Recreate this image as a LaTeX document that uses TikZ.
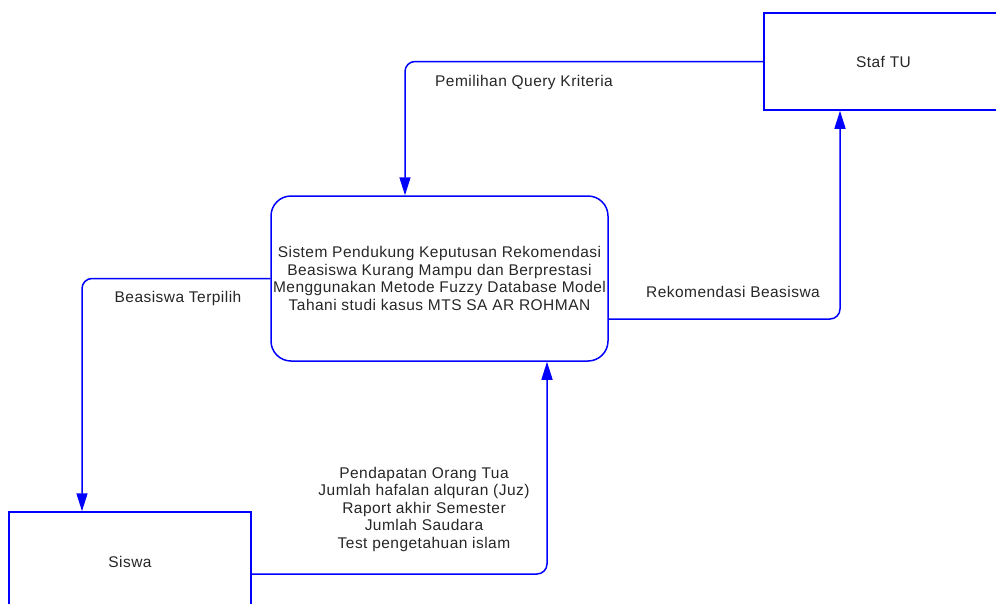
\documentclass[tikz,border=0pt]{standalone}
\usepackage{fontspec}
\setmainfont{Liberation Sans}[LetterSpace=3]
\usetikzlibrary{arrows.meta}

\begin{document}
\begin{tikzpicture}[x=1pt,y=-1pt,
  txt/.style={font=\fontsize{15.5}{17.5}\selectfont, text=black!85},
  entity/.style={txt, draw=blue, line width=1.5pt, rectangle, inner sep=0pt},
  process/.style={txt, draw=blue, line width=1.5pt, rectangle, rounded corners=20pt,
    inner sep=0pt, align=center},
  flow/.style={draw=blue, line width=1.5pt, rounded corners=10pt,
    -{Triangle[length=18pt,width=11pt]}},
  lbl/.style={txt, inner sep=0pt, align=center}]
\useasboundingbox (0,0) rectangle (996,603);
\clip (0,0) rectangle (996,603);

% external entities and the process
\node[entity, minimum width=239pt, minimum height=97pt] (staf) at (883.5,61.5) {Staf TU};
\node[entity, minimum width=242pt, minimum height=100pt] (siswa) at (130,562) {Siswa};
\node[process, minimum width=337pt, minimum height=165pt] (proc) at (439.5,278.5)
  {Sistem Pendukung Keputusan Rekomendasi\\
   Beasiswa Kurang Mampu dan Berprestasi\\
   Menggunakan Metode Fuzzy Database Model\\
   Tahani studi kasus MTS SA AR ROHMAN};

% data flows
\draw[flow] (staf.west) -| ([xshift=-34.5pt]proc.north);
\draw[flow] ([yshift=-40.5pt]proc.east) -| ([xshift=-43.5pt]staf.south);
\draw[flow] (proc.west) -| ([xshift=-48pt]siswa.north);
\draw[flow] ([yshift=-12pt]siswa.east) -| ([xshift=107.5pt]proc.south);

% flow labels
\node[lbl] (l1) at (524,82) {Pemilihan Query Kriteria};
\node[lbl] (l2) at (733,292) {Rekomendasi Beasiswa};
\node[lbl] (l3) at (178,298) {Beasiswa Terpilih};
\node[lbl] (l4) at (424,509) {Pendapatan Orang Tua\\Jumlah hafalan alquran (Juz)\\
  Raport akhir Semester\\Jumlah Saudara\\Test pengetahuan islam};
\end{tikzpicture}
\end{document}
